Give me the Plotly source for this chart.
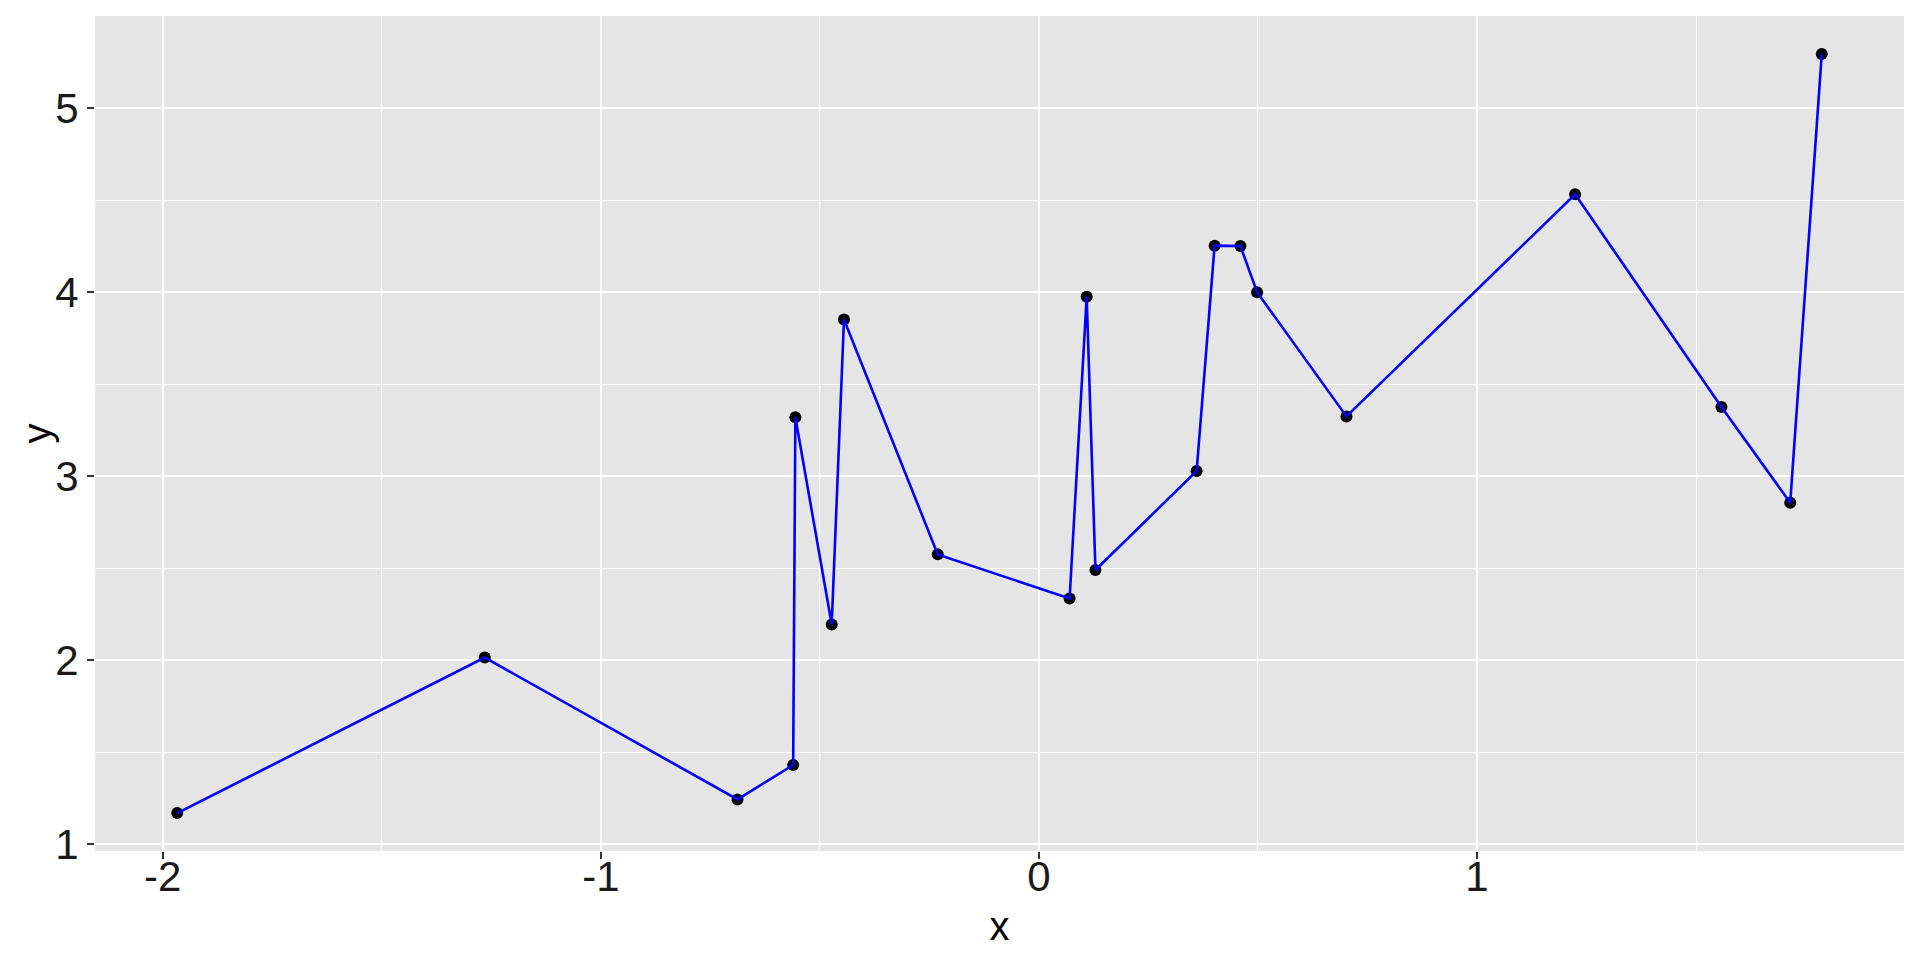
import plotly.graph_objects as go

x_vals = [-1.967, -1.265, -0.688, -0.561, -0.556, -0.473, -0.445, -0.231, 0.070,
          0.109, 0.129, 0.360, 0.401, 0.460, 0.498, 0.702, 1.224, 1.558, 1.715, 1.787]
y_vals = [1.170, 2.015, 1.244, 1.431, 3.321, 2.195, 3.853, 2.576, 2.336,
          3.976, 2.491, 3.029, 4.254, 4.252, 4.001, 3.326, 4.533, 3.377, 2.857, 5.296]
x_ticks = [-2, -1, 0, 1]
y_ticks = [1, 2, 3, 4, 5]

pad_x = 0.05 * (max(x_vals) - min(x_vals))
pad_y = 0.05 * (max(y_vals) - min(y_vals))

fig = go.Figure()
fig.add_trace(go.Scatter(x=x_vals, y=y_vals, mode="markers",
                         marker=dict(color="black", size=12, line=dict(width=0)),
                         showlegend=False, hoverinfo="skip"))
fig.add_trace(go.Scatter(x=x_vals, y=y_vals, mode="lines",
                         line=dict(color="blue", width=2.6),
                         showlegend=False))

font = "Liberation Sans, Arial, Helvetica, sans-serif"
axis_common = dict(
    showgrid=True, gridcolor="white", gridwidth=2.2,
    zeroline=False, showline=False, automargin=False,
    ticks="outside", ticklen=7, tickwidth=2, tickcolor="#333333",
    tickfont=dict(family=font, size=42, color="#1a1a1a"),
)
fig.update_xaxes(
    **axis_common,
    range=[min(x_vals) - pad_x, max(x_vals) + pad_x],
    tickvals=x_ticks, ticktext=[str(v) for v in x_ticks],
    ticklabelstandoff=-18,
    minor=dict(dtick=0.5, tick0=0, showgrid=True, gridcolor="white", gridwidth=1.1, ticks=""),
    title=dict(text="x", font=dict(family=font, size=40, color="black"), standoff=12),
)
fig.update_yaxes(
    **axis_common,
    range=[min(y_vals) - pad_y, max(y_vals) + pad_y],
    tickvals=y_ticks, ticktext=[str(v) for v in y_ticks],
    minor=dict(dtick=0.5, tick0=0, showgrid=True, gridcolor="white", gridwidth=1.1, ticks=""),
)
fig.add_annotation(text="y", textangle=-90, xref="paper", yref="paper",
                   x=0, y=0.5, xanchor="center", yanchor="middle", xshift=-59,
                   showarrow=False, font=dict(family=font, size=40, color="black"))
fig.update_layout(
    width=1920, height=960,
    margin=dict(l=95, r=16, t=16, b=109),
    plot_bgcolor="#E5E5E5", paper_bgcolor="white",
    showlegend=False,
)
fig.write_html("out.html", config={"displayModeBar": False},
               post_script="document.body.style.margin='0';document.body.style.overflow='hidden';")
